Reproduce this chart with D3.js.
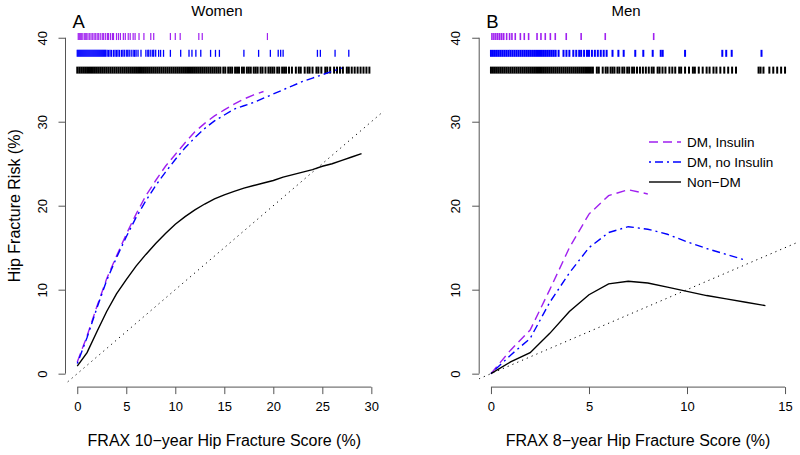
<!DOCTYPE html>
<html>
<head>
<meta charset="utf-8">
<script src="https://cdn.jsdelivr.net/npm/d3@7"></script>
<style>
  body { margin: 0; background: #fff; }
  text { font-family: "Liberation Sans", Arial, Helvetica, sans-serif; }
</style>
</head>
<body>
<div id="chart"></div>
<script>
// ---- data ----
var womenFrax = [0,1,2,3,4,5,6,7,8,9,10,11,12,13,14,15,16,17,18,19,20,21,22,23,24,25,26,27,28,29];
var womenInsulin = [1.4,4.5,8.0,11.3,14.0,16.6,19.0,21.2,23.0,24.7,26.1,27.5,28.8,29.8,30.7,31.4,32.1,32.7,33.2,33.6];
var womenNoInsulin = [1.2,4.3,7.8,11.1,13.8,16.3,18.6,20.6,22.4,24.0,25.5,26.9,28.1,29.2,30.1,30.8,31.5,31.9,32.3,32.8,33.3,33.8,34.3,34.8,35.2,35.6,36.0,36.4];
var womenNonDM = [0.9,2.5,5.0,7.4,9.5,11.2,12.8,14.2,15.5,16.7,17.8,18.7,19.5,20.2,20.8,21.3,21.7,22.1,22.4,22.7,23.0,23.4,23.7,24.0,24.3,24.7,25.0,25.4,25.8,26.2];

var menFrax = [0,1,2,3,4,5,6,7,8,9,10,11,12,13,14];
var menInsulin = [0,2.8,5.2,10.0,15.0,19.0,21.2,21.9,21.4];
var menNoInsulin = [0,2.2,4.2,8.5,12.0,15.0,16.8,17.5,17.2,16.6,15.7,14.9,14.2,13.5];
var menNonDM = [0,1.4,2.5,4.8,7.4,9.4,10.7,11.0,10.8,10.3,9.8,9.3,8.9,8.5,8.1];

// rug marks (observed FRAX scores per group)
var womenRugInsulin = [0.1,0.2,0.3,0.4,0.5,0.7,0.8,0.9,1.0,1.2,1.3,1.5,1.6,1.8,1.9,2.1,2.2,2.4,2.6,2.7,2.9,3.1,3.2,3.4,3.6,3.7,4.0,4.2,4.4,4.7,4.9,5.2,5.4,5.7,5.9,6.3,6.8,7.5,7.8,9.5,10.0,10.5,12.4,12.75,19.4];
var womenRugNoInsulin = [0,0.1,0.2,0.3,0.4,0.5,0.6,0.7,0.8,0.9,1.0,1.1,1.2,1.3,1.4,1.5,1.6,1.7,1.8,1.9,2.0,2.1,2.2,2.3,2.4,2.5,2.6,2.7,2.8,2.9,3.05,3.2,3.35,3.5,3.7,3.85,4.0,4.15,4.3,4.5,4.65,4.8,5.0,5.15,5.3,5.5,5.7,5.85,6.0,6.2,6.5,7.0,7.2,7.3,7.5,7.7,7.8,8.0,8.3,8.5,8.8,9.5,10.55,11.4,11.7,12.1,12.6,13.6,14.1,14.5,17.0,18.5,19.7,20.5,20.75,21.0,24.5,24.8,26.3,27.7];
var womenRugNonDM = [0,0.2,0.4,0.6,0.8,1.0,1.2,1.4,1.6,1.8,2.0,2.2,2.4,2.6,2.8,3.0,3.2,3.4,3.6,3.8,4.0,4.2,4.4,4.6,4.8,5.0,5.2,5.4,5.6,5.8,6.0,6.2,6.4,6.6,6.8,7.0,7.2,7.4,7.6,7.8,8.0,8.2,8.4,8.6,8.8,9.0,9.2,9.4,9.6,9.8,10.0,10.2,10.4,10.6,10.8,11.0,11.2,11.4,11.6,11.8,12.0,12.2,12.4,12.6,12.8,13.0,13.2,13.4,13.6,13.8,14.0,14.2,14.4,14.6,14.9,15.1,15.4,15.6,15.8,16.1,16.3,16.5,16.8,17.0,17.3,17.5,17.7,18.0,18.2,18.4,18.7,18.9,19.2,19.5,19.7,19.9,20.1,20.4,20.6,20.9,21.1,21.3,21.6,21.9,22.3,22.6,22.8,23.2,23.5,23.7,24.0,24.4,24.6,24.9,25.3,25.5,25.8,26.2,26.5,26.8,27.1,27.5,27.7,28.0,28.3,28.6,28.9,29.2,29.5,29.8];

var menRugInsulin = [0.05,0.15,0.25,0.35,0.45,0.55,0.65,0.8,0.95,1.07,1.24,1.5,1.7,1.92,2.35,2.55,2.77,3.03,3.28,3.84,4.6,5.83,8.3];
var menRugNoInsulin = [0,0.1,0.2,0.3,0.4,0.5,0.6,0.7,0.8,0.9,1.0,1.1,1.2,1.3,1.4,1.5,1.6,1.7,1.8,1.9,2.0,2.1,2.2,2.3,2.4,2.5,2.6,2.7,2.8,2.9,3.0,3.1,3.2,3.3,3.45,3.7,3.85,4.0,4.2,4.35,4.5,4.6,4.75,4.9,5.0,5.15,5.3,5.45,5.6,5.75,5.9,6.2,6.5,6.77,7.36,7.77,8.25,8.66,8.76,9.9,11.8,12.0,12.28,13.8];
var menRugNonDM = [0,0.1,0.2,0.3,0.4,0.5,0.6,0.7,0.8,0.9,1.0,1.1,1.2,1.3,1.4,1.5,1.6,1.7,1.8,1.9,2.0,2.1,2.2,2.3,2.4,2.5,2.6,2.7,2.8,2.9,3.0,3.1,3.2,3.3,3.4,3.5,3.6,3.7,3.8,3.9,4.0,4.1,4.2,4.3,4.4,4.5,4.6,4.7,4.8,4.9,5.0,5.1,5.2,5.4,5.5,5.7,5.85,5.95,6.1,6.2,6.3,6.45,6.55,6.7,6.8,6.95,7.05,7.2,7.3,7.45,7.6,7.75,7.9,8.05,8.2,8.3,8.5,8.6,8.75,8.9,9.1,9.25,9.4,9.6,9.7,9.9,10.1,10.3,10.4,10.6,10.8,11.0,11.15,11.35,11.5,11.7,11.9,12.1,12.3,12.5,13.65,13.75,13.9,14.2,14.4,14.6,14.8,15.0];

var yTicks = [0,10,20,30,40];
var womenXTicks = [0,5,10,15,20,25,30];
var menXTicks = [0,5,10,15];

var seriesNames = ['DM, Insulin', 'DM, no Insulin', 'Non\u2212DM'];
var seriesColors = ['#A020F0', '#0000FF', '#000000'];
var seriesDash = ['9,5', '2,4,8,4', null];

// ---- layout ----
var W = 800, H = 455;
var svg = d3.select('#chart').append('svg')
  .attr('width', W).attr('height', H);

var y = d3.scaleLinear().domain([-1.6, 41.6]).range([387.1, 24.3]);

var panels = [
  { key: 'A', title: 'Women', titleX: 217, xTitle: 'FRAX 10\u2212year Hip Fracture Score (%)',
    x: d3.scaleLinear().domain([-1.2, 31.2]).range([65.5, 383.1]), ticks: womenXTicks,
    frax: womenFrax, lines: [womenInsulin, womenNoInsulin, womenNonDM],
    rugs: [womenRugInsulin, womenRugNoInsulin, womenRugNonDM], rugW: [1.2, 1.3, 2.0], yLabel: true },
  { key: 'B', title: 'Men', titleX: 626, xTitle: 'FRAX 8\u2212year Hip Fracture Score (%)',
    x: d3.scaleLinear().domain([-0.6, 15.6]).range([479.2, 796.8]), ticks: menXTicks,
    frax: menFrax, lines: [menInsulin, menNoInsulin, menNonDM],
    rugs: [menRugInsulin, menRugNoInsulin, menRugNonDM], rugW: [1.6, 2.0, 2.0], yLabel: false }
];
var rugLevels = [40, 38, 36];

panels.forEach(function(p, pi) {
  var x = p.x;
  var x0 = x.range()[0], x1 = x.range()[1];
  var g = svg.append('g');

  svg.append('clipPath').attr('id', 'clip' + pi)
    .append('rect').attr('x', x0).attr('y', y.range()[1])
    .attr('width', x1 - x0).attr('height', y.range()[0] - y.range()[1]);

  // x axis
  var xa = g.append('g').attr('transform', 'translate(0,' + y.range()[0] + ')')
    .call(d3.axisBottom(x).tickValues(p.ticks).tickSize(7).tickPadding(8).tickFormat(d3.format('d')));
  xa.select('.domain').remove();
  xa.append('line').attr('x1', x(p.ticks[0])).attr('x2', x(p.ticks[p.ticks.length - 1]))
    .attr('stroke', '#555');
  xa.selectAll('.tick line').attr('stroke', '#555');
  xa.selectAll('.tick text').attr('fill', '#000').attr('font-size', 13)
    .attr('font-family', '"Liberation Sans", Arial, sans-serif');

  // y axis
  var ya = g.append('g').attr('transform', 'translate(' + x0 + ',0)')
    .call(d3.axisLeft(y).tickValues(yTicks).tickSize(7).tickFormat(d3.format('d')));
  ya.select('.domain').remove();
  ya.append('line').attr('y1', y(0)).attr('y2', y(40)).attr('stroke', '#555');
  ya.selectAll('.tick line').attr('stroke', '#555');
  ya.selectAll('.tick text')
    .attr('x', null).attr('dy', null)
    .attr('text-anchor', 'middle')
    .attr('transform', 'translate(-19,0) rotate(-90)')
    .attr('fill', '#000').attr('font-size', 13)
    .attr('font-family', '"Liberation Sans", Arial, sans-serif');

  // axis titles
  g.append('text').attr('x', (x0 + x1) / 2).attr('y', 446)
    .attr('text-anchor', 'middle').attr('font-size', 16).text(p.xTitle);
  if (p.yLabel) {
    g.append('text').attr('transform', 'translate(19.5,' + ((y.range()[0] + y.range()[1]) / 2) + ') rotate(-90)')
      .attr('text-anchor', 'middle').attr('font-size', 16).text('Hip Fracture Risk (%)');
  }

  // panel letter and title
  g.append('text').attr('x', x0 + 7).attr('y', 28.3).attr('font-size', 18.5).text(p.key);
  g.append('text').attr('x', p.titleX).attr('y', 16).attr('text-anchor', 'middle')
    .attr('font-size', 15).text(p.title);

  // identity line
  g.append('line').attr('clip-path', 'url(#clip' + pi + ')')
    .attr('x1', x(-5)).attr('y1', y(-5)).attr('x2', x(50)).attr('y2', y(50))
    .attr('stroke', '#000').attr('stroke-width', 1).attr('stroke-dasharray', '1.2,4');

  // rugs
  p.rugs.forEach(function(vals, si) {
    g.append('g').selectAll('line').data(vals).enter().append('line')
      .attr('x1', function(d) { return x(d); }).attr('x2', function(d) { return x(d); })
      .attr('y1', y(rugLevels[si]) - 4.7).attr('y2', y(rugLevels[si]) + 2.3)
      .attr('stroke', seriesColors[si]).attr('stroke-width', p.rugW[si]);
  });

  // risk curves
  var line = d3.line()
    .x(function(d, i) { return x(p.frax[i]); })
    .y(function(d) { return y(d); });
  p.lines.forEach(function(vals, si) {
    g.append('path').datum(vals)
      .attr('d', line)
      .attr('fill', 'none')
      .attr('stroke', seriesColors[si])
      .attr('stroke-width', 1.4)
      .attr('stroke-dasharray', seriesDash[si]);
  });
});

// legend (panel B)
var leg = svg.append('g');
seriesNames.forEach(function(name, i) {
  var ly = 142 + i * 20;
  leg.append('line').attr('x1', 649).attr('x2', 681).attr('y1', ly).attr('y2', ly)
    .attr('stroke', seriesColors[i]).attr('stroke-width', 1.4)
    .attr('stroke-dasharray', seriesDash[i]);
  leg.append('text').attr('x', 687).attr('y', ly + 4.8).attr('font-size', 13.5).text(name);
});
</script>
</body>
</html>
